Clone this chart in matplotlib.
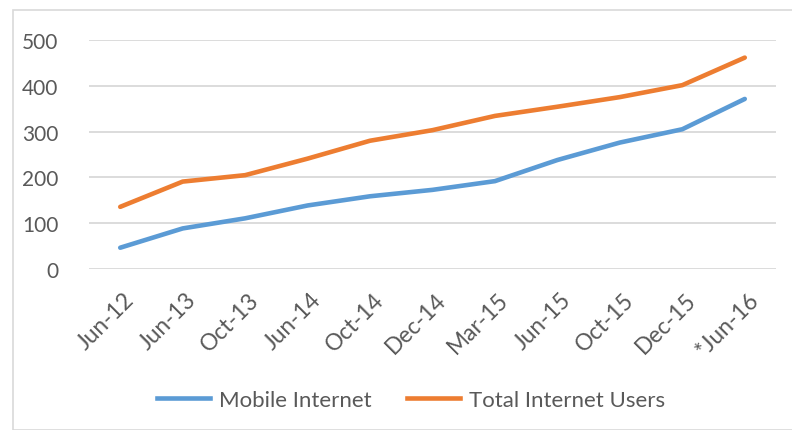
import matplotlib
matplotlib.use("Agg")
import matplotlib.pyplot as plt
from matplotlib.patches import Rectangle
from matplotlib.lines import Line2D
from matplotlib.transforms import ScaledTranslation

categories = ["Jun-12", "Jun-13", "Oct-13", "Jun-14", "Oct-14", "Dec-14",
              "Mar-15", "Jun-15", "Oct-15", "Dec-15", "*Jun-16"]
mobile_internet = [47, 89, 111, 139, 159, 173, 192, 238, 276, 305, 371]
total_internet = [136, 191, 205, 241, 280, 303, 334, 354, 375, 401, 461]
y_ticks = [0, 100, 200, 300, 400, 500]

plt.rcParams['font.family'] = ['Lato', 'DejaVu Sans']
text_color = '#595959'
grid_color = '#d9d9d9'
blue = '#5B9BD5'
orange = '#ED7D31'

W, H = 792, 431
fig = plt.figure(figsize=(W / 100, H / 100), dpi=100)
fig.patch.set_facecolor('white')

# outer chart border
fig.patches.append(Rectangle((13 / W, 0), 1.0, 1 - 11 / H, transform=fig.transFigure,
                             fill=False, edgecolor=grid_color, linewidth=1.2))

ax = fig.add_axes([89 / W, 1 - 270.3 / H, (776 - 89) / W, (270.3 - 40.7) / H])
x = list(range(len(categories)))
ax.plot(x, mobile_internet, color=blue, lw=3.3, solid_capstyle='round', label='Mobile Internet')
ax.plot(x, total_internet, color=orange, lw=3.3, solid_capstyle='round', label='Total Internet Users')

ax.set_xlim(-0.5, len(categories) - 0.5)
ax.set_ylim(0, 500)
ax.set_yticks(y_ticks)
ax.yaxis.grid(True, color=grid_color, lw=1.3)
ax.set_axisbelow(True)
for s in ax.spines.values():
    s.set_visible(False)
ax.tick_params(axis='both', length=0, colors=text_color)
ax.tick_params(axis='y', pad=22, labelsize=15)
ax.set_xticks(x)
ax.set_xticklabels(categories, rotation=45, ha='right', va='top', rotation_mode='anchor')
ax.tick_params(axis='x', pad=14, labelsize=16.5)
offset = ScaledTranslation(3 / 100, 0, fig.dpi_scale_trans)
for lbl in ax.get_xticklabels():
    lbl.set_transform(lbl.get_transform() + offset)

handles = [Line2D([], [], color=blue, lw=3.3), Line2D([], [], color=orange, lw=3.3)]
fig.legend(handles, ['Mobile Internet', 'Total Internet Users'], loc='center',
           bbox_to_anchor=(411 / W, 1 - 401 / H), ncol=2, frameon=False,
           fontsize=16, labelcolor=text_color, handlelength=2.4, handletextpad=0.4,
           columnspacing=1.6)

fig.savefig('out.png', dpi=100)
